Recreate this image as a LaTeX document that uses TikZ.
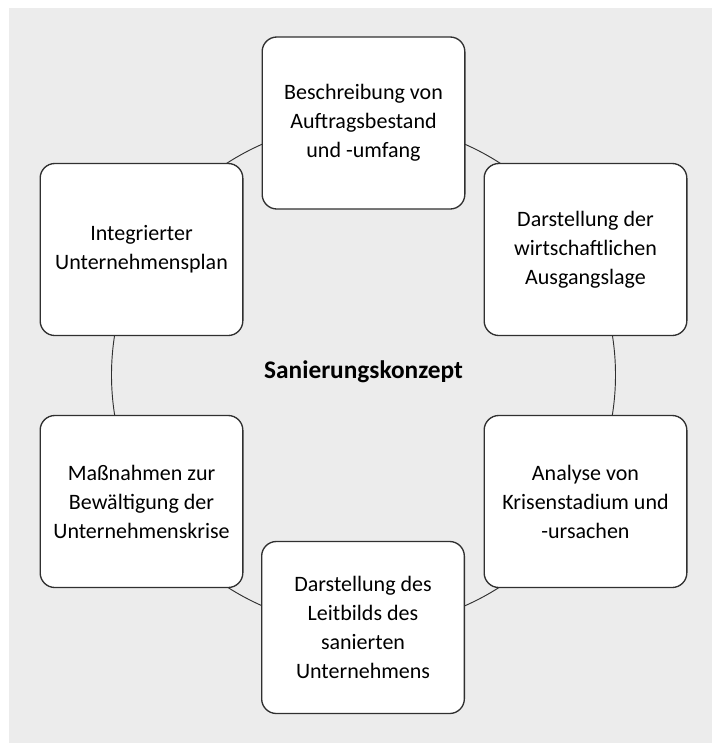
\documentclass[tikz,border=0pt]{standalone}
\usepackage{fontspec}
\setmainfont{Carlito}
\usetikzlibrary{positioning}
\definecolor{bggray}{HTML}{ECECEC}
\definecolor{linegray}{HTML}{303030}

\begin{document}
\begin{tikzpicture}[x=0.75pt,y=-0.75pt,
    stepbox/.style={draw=linegray, line width=1pt, fill=white, rounded corners=11pt,
      minimum width=152pt, minimum height=129pt, inner sep=0pt, align=center,
      font=\fontsize{16.5}{21.75}\selectfont},
    centertext/.style={font=\bfseries\fontsize{19}{23}\selectfont}]
    \useasboundingbox (0,0) rectangle (712,743);
    \fill[bggray] (9,8) rectangle (712,743);
    \coordinate (M) at (363.5,375);
    \draw[linegray, line width=0.7pt] (M) circle (189pt);
    \node[stepbox] (auftrag) at (363.5,123) {Beschreibung von\\Auftragsbestand\\und -umfang};
    \node[stepbox] (lage) at (585.5,249.5) {Darstellung der\\wirtschaftlichen\\Ausgangslage};
    \node[stepbox] (analyse) at (585.5,501.5) {Analyse von\\Krisenstadium und\\-ursachen};
    \node[stepbox] (leitbild) at (363,627.5) {Darstellung des\\Leitbilds des\\sanierten\\Unternehmens};
    \node[stepbox] (massnahmen) at (141.5,501.5) {Maßnahmen zur\\Bewältigung der\\Unternehmenskrise};
    \node[stepbox] (plan) at (141.5,249.5) {Integrierter\\Unternehmensplan};
    \node[centertext] (konzept) at (363.5,372) {Sanierungskonzept};
\end{tikzpicture}
\end{document}
